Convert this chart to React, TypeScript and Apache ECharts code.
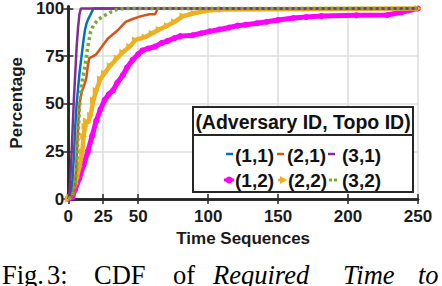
import React, { useEffect, useRef } from "react";
import * as echarts from "echarts";

// ---- data (Time Sequences vs Percentage, CDF) ----
const xTicks = [0, 25, 50, 100, 150, 200, 250];
const yTicks = [0, 25, 50, 75, 100];

const seriesNames = ["(1,1)", "(2,1)", "(3,1)", "(1,2)", "(2,2)", "(3,2)"];
const seriesColors = ["#0072BD", "#D95319", "#7E2F8E", "#FF00FF", "#EDB120", "#77AC30"];

const t11 = [0, 2, 3, 4, 5, 6, 7, 8, 9, 10, 11, 12, 13, 14, 16, 18, 250];
const p11 = [0, 3, 10, 22, 38, 50, 58, 66, 72, 78, 84, 89, 92, 94, 97, 100, 100];

const t21 = [0, 4, 5, 6, 7, 8, 9, 10, 12, 13, 14, 15, 18, 20, 22, 25, 28, 32, 36, 41, 46, 50, 55, 58, 62, 64, 250];
const p21 = [0, 2, 8, 22, 38, 50, 54, 57, 61, 64, 70, 74, 75, 76, 78, 81, 84, 86.5, 89, 93, 94.5, 95.5, 96.5, 97, 97, 100, 100];

const t31 = [0, 1, 2, 3, 4, 5, 6, 7, 8, 9, 250];
const p31 = [0, 4, 18, 35, 52, 66, 80, 90, 97, 100, 100];

const t12 = [0, 3, 5, 8, 11, 14, 17, 20, 23, 26, 29, 32, 35, 39, 42, 46, 50, 53, 57, 62, 67, 71, 76, 80, 89, 95, 101, 108, 115, 121, 127, 135, 142, 150, 161, 170, 181, 206, 228, 238, 250];
const p12 = [0, 1, 5, 11, 18, 25, 33, 41, 47, 52, 55, 57, 61, 65, 69, 73, 76, 78, 79, 80, 82, 83, 84.5, 85.5, 86, 87, 88, 89, 90, 91, 91.5, 92.3, 93, 94, 95, 95.5, 96, 96.4, 96.6, 98, 100];

const t22 = [0, 1, 3, 5, 6, 8, 10, 11, 12, 13, 14, 16, 18, 20, 23, 26, 30, 35, 39, 44, 48, 55, 60, 65, 71, 76, 82, 90, 100, 110, 250];
const p22 = [0, 1, 4, 8, 11, 17, 25, 33, 38, 41, 40, 44, 52, 57, 63, 66, 70, 74, 77, 80, 83.5, 85, 87, 89, 91, 93, 96, 97.5, 99, 99.5, 100];

const t32 = [0, 3, 5, 6, 7, 8, 9, 10, 11.5, 13, 14, 16, 18, 21, 25, 30, 35, 40, 250];
const p32 = [0, 2, 8, 16, 33, 48, 56, 62, 68, 75, 80, 88, 91, 94, 96, 98, 99.5, 100, 100];

const legendTitle = "(Adversary ID, Topo ID)";
const xName = "Time Sequences";
const yName = "Percentage";
const captionWords = ["Fig.", "3:", "CDF", "of", "Required", "Time", "to"];
const captionItalic = [false, false, false, false, true, true, true];

const SANS = "Liberation Sans";
const SERIF = "Liberation Serif";
const AX = "#262626";

function pairs(ts: number[], ps: number[]) {
  return ts.map((t, i) => [t, ps[i]]);
}

export default function App() {
  const ref = useRef<HTMLDivElement>(null);
  useEffect(() => {
    if (!ref.current) return;
    const chart = echarts.init(ref.current, null, { renderer: "svg" });
    const labelStyle = { fontFamily: SANS, fontWeight: "bold", fontSize: 17, color: "#1a1a1a" };
    const base = (i: number, ts: number[], ps: number[], z: number, extra: any = {}) => ({
      type: "line",
      name: seriesNames[i],
      data: pairs(ts, ps),
      showSymbol: false,
      symbol: "none",
      z,
      lineStyle: { color: seriesColors[i], width: 2.5 },
      itemStyle: { color: seriesColors[i] },
      ...extra,
    });
    const txt = (text: string, x: number, y: number, opts: any = {}) => ({
      type: "text",
      x,
      y,
      z: 110,
      style: {
        text,
        fill: "#111",
        fontFamily: SANS,
        fontWeight: "bold",
        fontSize: 19,
        textAlign: "left",
        textVerticalAlign: "middle",
        align: "left",
        verticalAlign: "middle",
        ...opts,
      },
    });
    const capX = [2, 47, 94, 173, 213, 343, 418];
    const caption = captionWords.map((w, i) => {
      const style: any = { text: w, fontFamily: SERIF, fontSize: 26.5, fill: "#000" };
      if (captionItalic[i]) style.fontStyle = "italic";
      return { type: "text", x: capX[i], y: 261, z: 110, style };
    });

    const r1 = 154;
    const r2 = 180;
    chart.setOption({
      animation: false,
      backgroundColor: "#fff",
      grid: { left: 53, right: 24, top: 5, bottom: 87, containLabel: false },
      xAxis: [
        {
          type: "value",
          min: 0,
          max: 250,
          position: "bottom",
          name: xName,
          nameLocation: "middle",
          nameGap: 31,
          nameTextStyle: { ...labelStyle },
          axisLine: { show: true, lineStyle: { color: AX, width: 2.5 } },
          axisTick: { show: true, inside: true, length: 5, customValues: xTicks, lineStyle: { color: AX, width: 1.5 } },
          axisLabel: { ...labelStyle, margin: 9, customValues: xTicks },
          splitLine: { show: true, lineStyle: { color: "#dcdcdc", width: 1.5 } },
        },
        {
          type: "value",
          min: 0,
          max: 250,
          position: "top",
          axisLine: { show: true, lineStyle: { color: AX, width: 2.5 } },
          axisTick: { show: true, inside: true, length: 5, customValues: xTicks, lineStyle: { color: AX, width: 1.5 } },
          axisLabel: { show: false },
          splitLine: { show: false },
        },
      ],
      yAxis: [
        {
          type: "value",
          min: 0,
          max: 101,
          position: "left",
          name: yName,
          nameLocation: "middle",
          nameGap: 34,
          nameRotate: 90,
          nameTextStyle: { ...labelStyle },
          axisLine: { show: true, lineStyle: { color: AX, width: 2.5 } },
          axisTick: { show: true, inside: true, length: 5, customValues: yTicks, lineStyle: { color: AX, width: 1.5 } },
          axisLabel: { ...labelStyle, margin: 4, customValues: yTicks },
          splitLine: { show: true, lineStyle: { color: "#dcdcdc", width: 1.5 } },
        },
        {
          type: "value",
          min: 0,
          max: 101,
          position: "right",
          axisLine: { show: true, lineStyle: { color: AX, width: 2.5 } },
          axisTick: { show: true, inside: true, length: 5, customValues: yTicks, lineStyle: { color: AX, width: 1.5 } },
          axisLabel: { show: false },
          splitLine: { show: false },
        },
      ],
      series: [
        base(3, t12, p12, 2, { showSymbol: true, symbol: "circle", symbolSize: 6, lineStyle: { color: seriesColors[3], width: 5 } }),
        base(4, t22, p22, 3, { showSymbol: true, symbol: "triangle", symbolSize: 7, symbolRotate: -90, lineStyle: { color: seriesColors[4], width: 4.5 } }),
        base(0, t11, p11, 4),
        base(1, t21, p21, 5),
        base(2, t31, p31, 6),
        base(5, t32, p32, 7, { lineStyle: { color: seriesColors[5], width: 3.5, type: [3, 3] } }),
      ],
      graphic: [
        { type: "rect", z: 100, shape: { x: 193, y: 107, width: 220, height: 85 }, style: { fill: "#fff", stroke: AX, lineWidth: 2 } },
        { type: "line", z: 101, shape: { x1: 193, y1: 135, x2: 413, y2: 135 }, style: { stroke: AX, lineWidth: 2 } },
        txt(legendTitle, 303, 122, { textAlign: "center", align: "center", fontSize: 19.5 }),
        // row 1 icons
        { type: "line", z: 105, shape: { x1: 226, y1: r1, x2: 233, y2: r1 }, style: { stroke: seriesColors[0], lineWidth: 2.5 } },
        { type: "line", z: 105, shape: { x1: 277, y1: r1, x2: 284, y2: r1 }, style: { stroke: seriesColors[1], lineWidth: 2.5 } },
        { type: "line", z: 105, shape: { x1: 328, y1: r1, x2: 335, y2: r1 }, style: { stroke: seriesColors[2], lineWidth: 2.5 } },
        txt(seriesNames[0], 235, r1 + 1),
        txt(seriesNames[1], 287, r1 + 1),
        txt(seriesNames[2], 342, r1 + 1),
        // row 2 icons
        { type: "line", z: 105, shape: { x1: 224, y1: r2, x2: 234, y2: r2 }, style: { stroke: seriesColors[3], lineWidth: 3 } },
        { type: "circle", z: 106, shape: { cx: 229, cy: r2, r: 3.5 }, style: { fill: seriesColors[3] } },
        { type: "line", z: 105, shape: { x1: 278, y1: r2, x2: 285, y2: r2 }, style: { stroke: seriesColors[4], lineWidth: 2.5 } },
        { type: "polygon", z: 106, shape: { points: [[280, r2 - 4], [287, r2], [280, r2 + 4]] }, style: { fill: seriesColors[4] } },
        { type: "rect", z: 105, shape: { x: 329, y: r2 - 1.5, width: 3, height: 3 }, style: { fill: seriesColors[5] } },
        { type: "rect", z: 105, shape: { x: 334, y: r2 - 1.5, width: 3, height: 3 }, style: { fill: seriesColors[5] } },
        txt(seriesNames[3], 235, r2),
        txt(seriesNames[4], 288, r2),
        txt(seriesNames[5], 342, r2),
        ...caption,
      ],
    });
    return () => chart.dispose();
  }, []);
  return <div ref={ref} style={{ position: "fixed", left: 0, top: 0, width: 442, height: 286, background: "#fff" }} />;
}
